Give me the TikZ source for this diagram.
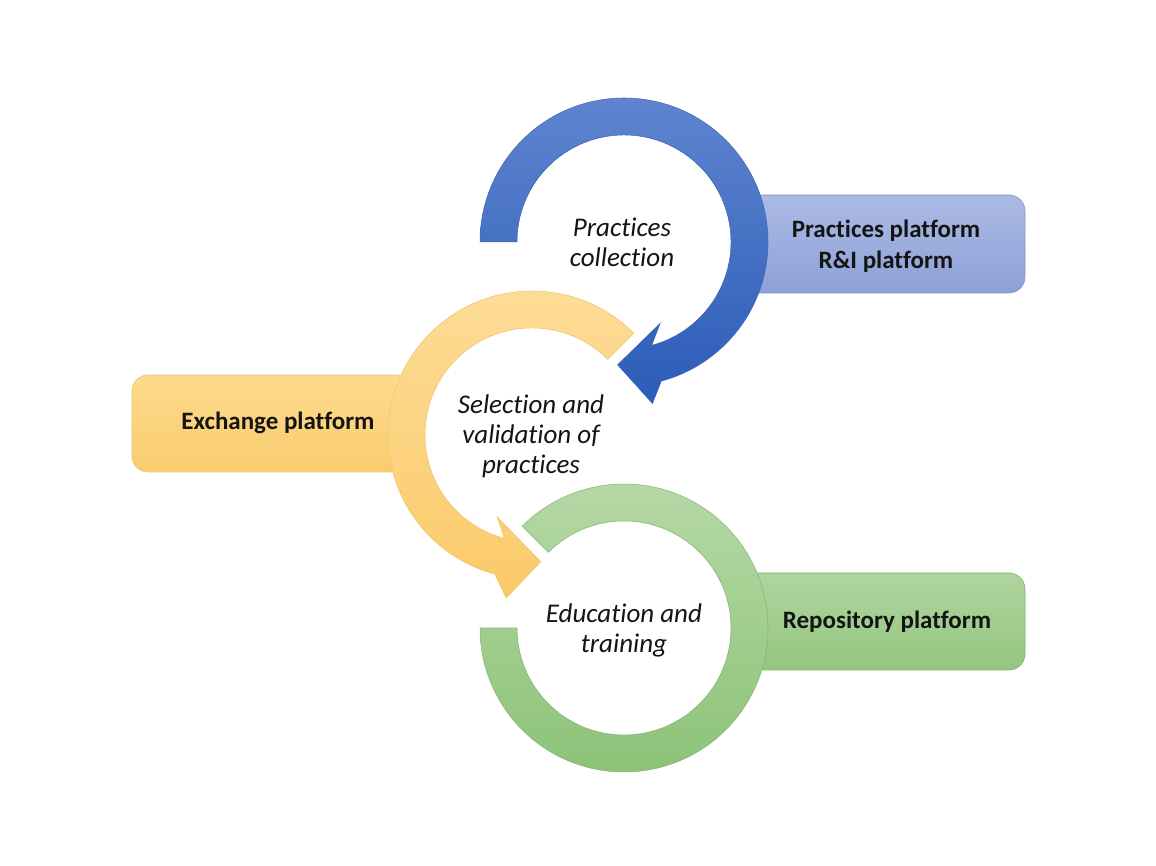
\documentclass[tikz,border=0pt]{standalone}
\usepackage{fontspec}
\setmainfont{Carlito}[Ligatures=NoCommon]
\usetikzlibrary{calc}
\definecolor{blueTop}{RGB}{94,132,206}
\definecolor{blueBot}{RGB}{44,92,184}
\definecolor{blueEdge}{RGB}{60,100,180}
\definecolor{bboxTop}{RGB}{172,187,228}
\definecolor{bboxBot}{RGB}{140,161,216}
\definecolor{bboxEdge}{RGB}{130,150,205}
\definecolor{yelTop}{RGB}{253,221,152}
\definecolor{yelBot}{RGB}{251,202,105}
\definecolor{yelEdge}{RGB}{240,195,110}
\definecolor{yboxTop}{RGB}{253,218,140}
\definecolor{yboxBot}{RGB}{250,205,110}
\definecolor{greTop}{RGB}{182,216,166}
\definecolor{greBot}{RGB}{140,195,120}
\definecolor{greEdge}{RGB}{130,180,110}
\definecolor{gboxTop}{RGB}{176,212,160}
\definecolor{gboxBot}{RGB}{148,198,126}
\definecolor{txt}{RGB}{20,20,20}
\tikzset{
  boxtext/.style={font=\fontsize{25}{31}\selectfont\bfseries, align=center, text=txt, inner sep=0pt},
  ringtext/.style={font=\fontsize{27}{30}\selectfont\itshape, align=center, text=txt, inner sep=0pt},
  platbox/.style={rounded corners=16pt, line width=0.6pt},
  ring/.style={line width=0.5pt},
}
\begin{document}
\begin{tikzpicture}[x=1pt,y=1pt]
\useasboundingbox (0,0) rectangle (1156,866);
% platform boxes (behind rings)
\shadedraw[platbox, top color=bboxTop, bottom color=bboxBot, draw=bboxEdge] (740,573) rectangle (1025,671);
\shadedraw[platbox, top color=yboxTop, bottom color=yboxBot, draw=yelEdge] (132,394) rectangle (412,491);
\shadedraw[platbox, top color=gboxTop, bottom color=gboxBot, draw=greEdge] (740,196) rectangle (1025,293);
% ring centres
\coordinate (bc) at (624,624);
\coordinate (yc) at (532,431);
\coordinate (gc) at (624,238);
% green ring (no head)
\shadedraw[ring, top color=greTop, bottom color=greBot, draw=greEdge]
  ($(gc)+(180:144)$) arc[start angle=180, end angle=495, radius=144]
  -- ($(gc)+(495:107)$) arc[start angle=495, end angle=180, radius=107] -- cycle;
% yellow ring arrow
\shadedraw[ring, top color=yelTop, bottom color=yelBot, draw=yelEdge]
  ($(yc)+(45:144)$) arc[start angle=45, end angle=255, radius=144]
  -- ($(yc)+(261:165)$) -- ($(yc)+(274:127)$) -- ($(yc)+(247:89)$)
  -- ($(yc)+(255:107)$) arc[start angle=255, end angle=45, radius=107] -- cycle;
% blue ring arrow
\shadedraw[ring, top color=blueTop, bottom color=blueBot, draw=blueEdge]
  ($(bc)+(180:144)$) arc[start angle=180, end angle=-75, radius=144]
  -- ($(bc)+(-80:164)$) -- ($(bc)+(-93:123)$) -- ($(bc)+(-66:89)$)
  -- ($(bc)+(-75:107)$) arc[start angle=-75, end angle=180, radius=107] -- cycle;
% texts
\node[ringtext] (collect) at (622,624) {Practices\\collection};
\node[ringtext] (select) at (531,430) {Selection and\\validation of\\practices};
\node[ringtext] (educ) at (624,236) {Education and\\training};
\node[boxtext] (pplat) at (886,620) {Practices platform\\R\&I platform};
\node[boxtext] (xplat) at (278,443) {Exchange platform};
\node[boxtext] (rplat) at (887,244) {Repository platform};
\end{tikzpicture}
\end{document}
